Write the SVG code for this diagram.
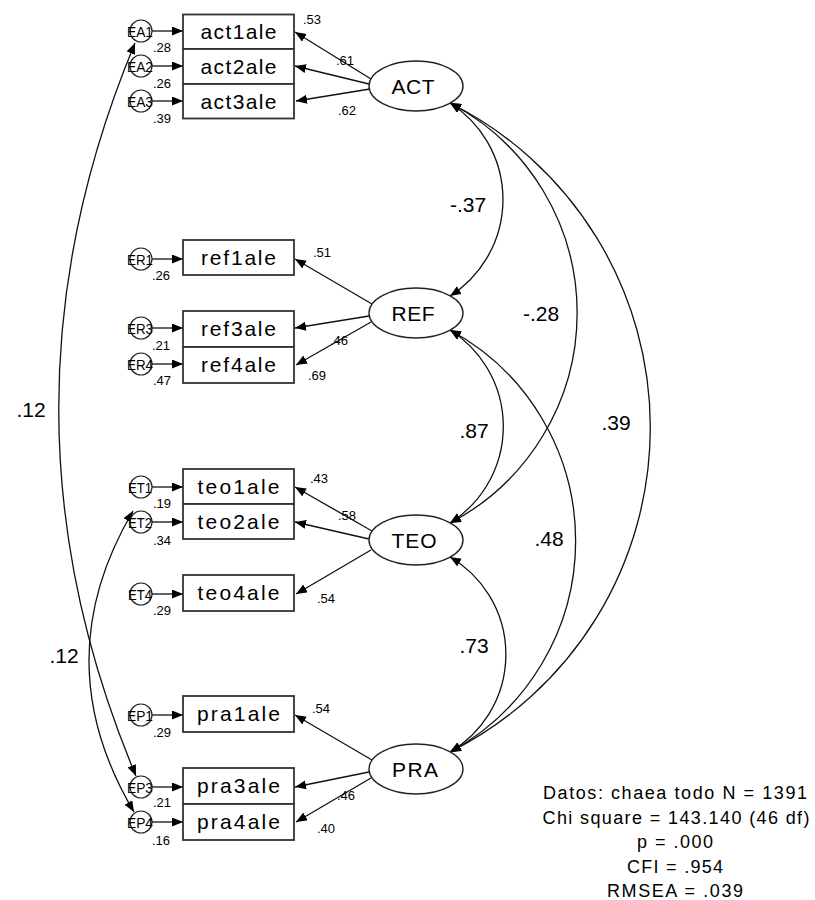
<svg xmlns="http://www.w3.org/2000/svg" width="815" height="900" viewBox="0 0 815 900">
<defs>
<marker id="ah" markerUnits="userSpaceOnUse" markerWidth="12" markerHeight="10" refX="11" refY="4.5" orient="auto-start-reverse">
<path d="M0,0 L11,4.5 L0,9 z" fill="#000"/>
</marker>
<style>
text{font-family:"Liberation Sans",Arial,sans-serif;fill:#000}
.box{fill:#fff;stroke:#333;stroke-width:1.8}
.lat{fill:#fff;stroke:#222;stroke-width:1.4}
.err{fill:#fff;stroke:#222;stroke-width:1.2}
.bl{font-size:21px;text-anchor:middle}
.ll{font-size:21px;text-anchor:middle}
.el{font-size:15px;text-anchor:middle}
.sm{font-size:13px}
.cl{font-size:21px;text-anchor:middle}
.st{font-size:18px;text-anchor:middle}
.c{fill:none;stroke:#111;stroke-width:1.3}
.a{fill:none;stroke:#111;stroke-width:1.3;marker-end:url(#ah)}
.d{fill:none;stroke:#111;stroke-width:1.3;marker-start:url(#ah);marker-end:url(#ah)}
</style>
</defs>
<rect width="815" height="900" fill="#fff"/>

<g id="connectors">
<line class="a" x1="152" y1="31" x2="183" y2="31"/>
<line class="a" x1="152" y1="66" x2="183" y2="66"/>
<line class="a" x1="152" y1="101" x2="183" y2="101"/>
<line class="a" x1="152" y1="259" x2="183" y2="259"/>
<line class="a" x1="152" y1="328" x2="183" y2="328"/>
<line class="a" x1="152" y1="364" x2="183" y2="364"/>
<line class="a" x1="152" y1="487" x2="183" y2="487"/>
<line class="a" x1="152" y1="522" x2="183" y2="522"/>
<line class="a" x1="152" y1="594" x2="183" y2="594"/>
<line class="a" x1="152" y1="715" x2="183" y2="715"/>
<line class="a" x1="152" y1="787" x2="183" y2="787"/>
<line class="a" x1="152" y1="822" x2="183" y2="822"/>
<line class="a" x1="371" y1="79" x2="295" y2="32"/>
<line class="a" x1="369" y1="84" x2="295" y2="66"/>
<line class="a" x1="370" y1="89" x2="296" y2="101"/>
<line class="a" x1="372" y1="304" x2="295" y2="259"/>
<line class="a" x1="369" y1="316" x2="295" y2="328"/>
<line class="a" x1="371" y1="322" x2="296" y2="365"/>
<line class="a" x1="372" y1="531" x2="295" y2="487"/>
<line class="a" x1="369" y1="539" x2="295" y2="522"/>
<line class="a" x1="371" y1="550" x2="296" y2="594"/>
<line class="a" x1="372" y1="760" x2="295" y2="715"/>
<line class="a" x1="369" y1="772" x2="295" y2="787"/>
<line class="a" x1="371" y1="778" x2="296" y2="822"/>
<path class="d" d="M450,103 A114.4,114.4 0 0 1 450,296"/>
<path class="d" d="M450,103 A237,237 0 0 1 450,523"/>
<path class="d" d="M450,103 A363,363 0 0 1 450,752"/>
<path class="d" d="M450,330 A114,114 0 0 1 450,523"/>
<path class="d" d="M450,330 A240,240 0 0 1 450,752"/>
<path class="d" d="M450,557 A113,113 0 0 1 450,752"/>
<path class="d" d="M135,43 Q-18,410 136,776"/>
<path class="d" d="M133,511 Q44.5,661 134,812"/>
</g>

<g id="EA1"><circle class="err" cx="141" cy="31" r="11"/><text class="el" x="140" y="36.5" textLength="26" lengthAdjust="spacingAndGlyphs">EA1</text></g>
<g id="EA2"><circle class="err" cx="141" cy="66" r="11"/><text class="el" x="140" y="71.5" textLength="26" lengthAdjust="spacingAndGlyphs">EA2</text></g>
<g id="EA3"><circle class="err" cx="141" cy="101" r="11"/><text class="el" x="140" y="106.5" textLength="26" lengthAdjust="spacingAndGlyphs">EA3</text></g>
<g id="ER1"><circle class="err" cx="141" cy="259" r="11"/><text class="el" x="140" y="264.5" textLength="26" lengthAdjust="spacingAndGlyphs">ER1</text></g>
<g id="ER3"><circle class="err" cx="141" cy="328" r="11"/><text class="el" x="140" y="333.5" textLength="26" lengthAdjust="spacingAndGlyphs">ER3</text></g>
<g id="ER4"><circle class="err" cx="141" cy="364" r="11"/><text class="el" x="140" y="369.5" textLength="26" lengthAdjust="spacingAndGlyphs">ER4</text></g>
<g id="ET1"><circle class="err" cx="141" cy="487" r="11"/><text class="el" x="140" y="492.5" textLength="24" lengthAdjust="spacingAndGlyphs">ET1</text></g>
<g id="ET2"><circle class="err" cx="141" cy="522" r="11"/><text class="el" x="140" y="527.5" textLength="24" lengthAdjust="spacingAndGlyphs">ET2</text></g>
<g id="ET4"><circle class="err" cx="141" cy="594" r="11"/><text class="el" x="140" y="599.5" textLength="24" lengthAdjust="spacingAndGlyphs">ET4</text></g>
<g id="EP1"><circle class="err" cx="141" cy="715" r="11"/><text class="el" x="140" y="720.5" textLength="26" lengthAdjust="spacingAndGlyphs">EP1</text></g>
<g id="EP3"><circle class="err" cx="141" cy="787" r="11"/><text class="el" x="140" y="792.5" textLength="26" lengthAdjust="spacingAndGlyphs">EP3</text></g>
<g id="EP4"><circle class="err" cx="141" cy="822" r="11"/><text class="el" x="140" y="827.5" textLength="26" lengthAdjust="spacingAndGlyphs">EP4</text></g>

<g id="act1ale"><rect class="box" x="183" y="14.5" width="111" height="34.5"/><text class="bl" x="238.5" y="39" textLength="76">act1ale</text></g>
<g id="act2ale"><rect class="box" x="183" y="49" width="111" height="35"/><text class="bl" x="238.5" y="74" textLength="76">act2ale</text></g>
<g id="act3ale"><rect class="box" x="183" y="84" width="111" height="34.5"/><text class="bl" x="238.5" y="108.5" textLength="76">act3ale</text></g>
<g id="ref1ale"><rect class="box" x="183" y="240" width="111" height="35"/><text class="bl" x="238.5" y="265" textLength="75">ref1ale</text></g>
<g id="ref3ale"><rect class="box" x="183" y="311" width="111" height="36"/><text class="bl" x="238.5" y="336" textLength="75">ref3ale</text></g>
<g id="ref4ale"><rect class="box" x="183" y="347" width="111" height="36"/><text class="bl" x="238.5" y="372" textLength="75">ref4ale</text></g>
<g id="teo1ale"><rect class="box" x="183" y="469" width="111" height="35"/><text class="bl" x="238.5" y="494" textLength="82">teo1ale</text></g>
<g id="teo2ale"><rect class="box" x="183" y="504" width="111" height="35"/><text class="bl" x="238.5" y="529" textLength="82">teo2ale</text></g>
<g id="teo4ale"><rect class="box" x="183" y="575" width="111" height="36"/><text class="bl" x="238.5" y="600" textLength="82">teo4ale</text></g>
<g id="pra1ale"><rect class="box" x="183" y="696" width="111" height="36"/><text class="bl" x="238.5" y="721" textLength="83">pra1ale</text></g>
<g id="pra3ale"><rect class="box" x="183" y="768" width="111" height="36"/><text class="bl" x="238.5" y="793" textLength="83">pra3ale</text></g>
<g id="pra4ale"><rect class="box" x="183" y="804" width="111" height="36"/><text class="bl" x="238.5" y="829" textLength="83">pra4ale</text></g>

<g id="ACT"><ellipse class="lat" cx="416" cy="86" rx="47" ry="25"/><text class="ll" x="413" y="94" textLength="43">ACT</text></g>
<g id="REF"><ellipse class="lat" cx="416" cy="313" rx="47" ry="25"/><text class="ll" x="413" y="321" textLength="43">REF</text></g>
<g id="TEO"><ellipse class="lat" cx="416" cy="540" rx="47" ry="25"/><text class="ll" x="414" y="548" textLength="45">TEO</text></g>
<g id="PRA"><ellipse class="lat" cx="416" cy="769" rx="47" ry="25"/><text class="ll" x="415" y="777" textLength="46">PRA</text></g>

<g id="small-labels" class="sm">
<text x="303" y="24">.53</text>
<text x="153" y="52">.28</text>
<text x="336" y="65">.61</text>
<text x="153" y="88">.26</text>
<text x="338" y="115">.62</text>
<text x="153" y="123">.39</text>
<text x="313" y="257">.51</text>
<text x="152" y="280">.26</text>
<text x="152" y="350">.21</text>
<text x="330" y="345">.46</text>
<text x="153" y="385">.47</text>
<text x="308" y="380">.69</text>
<text x="310" y="483">.43</text>
<text x="153" y="508">.19</text>
<text x="338" y="520">.58</text>
<text x="153" y="545">.34</text>
<text x="317" y="603">.54</text>
<text x="153" y="615">.29</text>
<text x="312" y="713">.54</text>
<text x="153" y="737">.29</text>
<text x="153" y="807">.21</text>
<text x="337" y="800">.46</text>
<text x="317" y="833">.40</text>
<text x="152" y="845">.16</text>
</g>

<g id="cov-labels" class="cl">
<text x="468" y="212">-.37</text>
<text x="541" y="321">-.28</text>
<text x="616" y="430">.39</text>
<text x="474" y="438">.87</text>
<text x="549" y="546">.48</text>
<text x="474" y="653">.73</text>
<text x="31" y="417">.12</text>
<text x="64" y="663">.12</text>
</g>

<g id="fit-stats" class="st">
<text x="675" y="799" textLength="264">Datos: chaea todo  N = 1391</text>
<text x="676" y="824" textLength="267">Chi square = 143.140 (46 df)</text>
<text x="675" y="848" textLength="76">p = .000</text>
<text x="675" y="873" textLength="96">CFI = .954</text>
<text x="675" y="897" textLength="136">RMSEA = .039</text>
</g>
</svg>
